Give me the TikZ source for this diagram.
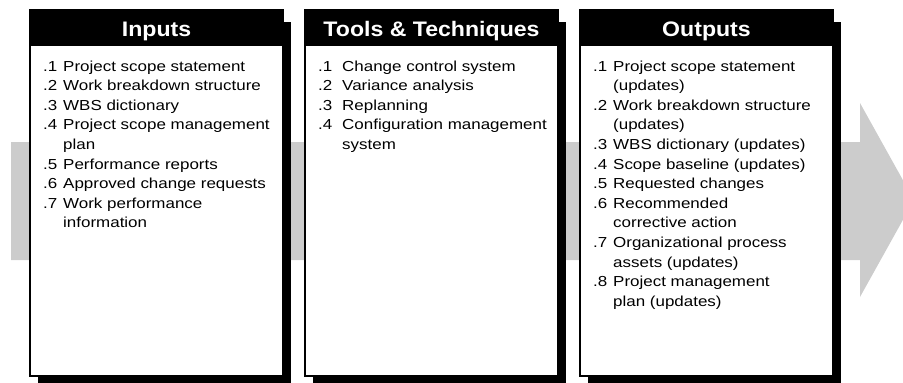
\documentclass[tikz,border=0pt]{standalone}
\usepackage{fontspec}
\setmainfont{Liberation Sans}[FakeStretch=1.17]
\newfontfamily\headfont{Liberation Sans}[FakeStretch=1.1]
\usetikzlibrary{positioning,shadows}
\definecolor{bandgray}{RGB}{204,204,204}
\tikzset{
  panel/.style={draw=black,line width=1.5pt,fill=white,minimum width=253pt,
    minimum height=366pt,inner sep=0pt,outer sep=0pt,anchor=north west,
    drop shadow={shadow xshift=8pt,shadow yshift=-12pt,fill=black,opacity=1}},
  panelhead/.style={fill=black,text=white,font=\headfont\bfseries\fontsize{21}{24}\selectfont,
    minimum width=253pt,minimum height=36pt,inner sep=0pt,outer sep=0pt,
    text height=21pt,text depth=3.6pt,anchor=north},
  itemlist/.style={font=\fontsize{14.5}{19.6}\selectfont,inner sep=0pt,anchor=base west},
}

\begin{document}
\begin{tikzpicture}[x=1pt,y=-1pt,node distance=22pt]
  \useasboundingbox (0,0) rectangle (903,383);

  % flow band behind the panels
  \fill[bandgray] (11,142) -- (860,142) -- (860,103) -- (914,200)
    -- (860,297) -- (860,260) -- (11,260) -- cycle;

  \node[panel] (inp) at (30,10) {};
  \node[panel,right=of inp] (tool) {};
  \node[panel,right=of tool] (outp) {};

  \node[panelhead] (inp-h) at (inp.north) {Inputs};
  \node[panelhead] (tool-h) at (tool.north) {Tools \& Techniques};
  \node[panelhead] (outp-h) at (outp.north) {Outputs};

  \node[itemlist] (inp-l) at (43,71) {%
    \begin{tabular}[t]{@{}p{20pt}@{}l@{}}
      .1 & Project scope statement\\
      .2 & Work breakdown structure\\
      .3 & WBS dictionary\\
      .4 & Project scope management\\
         & plan\\
      .5 & Performance reports\\
      .6 & Approved change requests\\
      .7 & Work performance\\
         & information
    \end{tabular}};

  \node[itemlist] (tool-l) at (318,71) {%
    \begin{tabular}[t]{@{}p{24pt}@{}l@{}}
      .1 & Change control system\\
      .2 & Variance analysis\\
      .3 & Replanning\\
      .4 & Configuration management\\
         & system
    \end{tabular}};

  \node[itemlist] (outp-l) at (593,71) {%
    \begin{tabular}[t]{@{}p{20pt}@{}l@{}}
      .1 & Project scope statement\\
         & (updates)\\
      .2 & Work breakdown structure\\
         & (updates)\\
      .3 & WBS dictionary (updates)\\
      .4 & Scope baseline (updates)\\
      .5 & Requested changes\\
      .6 & Recommended\\
         & corrective action\\
      .7 & Organizational process\\
         & assets (updates)\\
      .8 & Project management\\
         & plan (updates)
    \end{tabular}};
\end{tikzpicture}
\end{document}
